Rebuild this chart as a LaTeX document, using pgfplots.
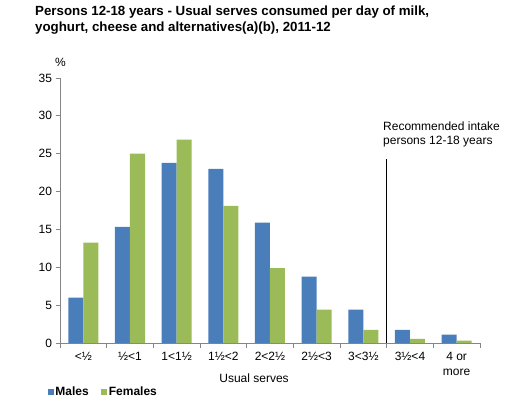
\documentclass[border=0pt]{standalone}
\usepackage{pgfplots}
\pgfplotsset{compat=1.18}
\usepackage{fontspec}
\setmainfont{Liberation Sans}
\definecolor{mblue}{HTML}{4A7EBB}
\definecolor{fgreen}{HTML}{9BBB59}
\definecolor{axgray}{HTML}{868686}
\begin{document}
\begin{tikzpicture}[x=1pt,y=1pt]
\useasboundingbox (0pt,0pt) rectangle (506pt,415pt);
\node[anchor=north west, align=left, font=\fontsize{13.3}{16}\selectfont\bfseries, inner sep=0pt] at (35pt,409pt)
 {Persons 12-18 years - Usual serves consumed per day of milk,\\yoghurt, cheese and alternatives(a)(b), 2011-12};
\begin{axis}[
 at={(60pt,72pt)}, anchor=south west,
 scale only axis, width=420pt, height=265pt,
 ybar=0pt, bar width=15pt,
 xmin=-0.5, xmax=8.5, ymin=0, ymax=35,
 ytick={0,5,...,35},
 xtick={-0.5,0.5,...,8.5},
 xticklabels={},
 extra x ticks={0,1,2,3,4,5,6,7,8},
 extra x tick labels={<½,½<1,1<1½,1½<2,2<2½,2½<3,3<3½,3½<4,4 or\\more},
 extra x tick style={major tick length=0pt, tick label style={align=center, anchor=north, yshift=-6pt}},
 axis x line*=bottom, axis y line*=left,
 axis line style={axgray, line width=0.8pt},
 every tick/.style={axgray, line width=0.8pt},
 tick align=outside, major tick length=4.5pt,
 x tick label style={font=\fontsize{12}{15}\selectfont},
 y tick label style={font=\fontsize{12}{14}\selectfont},
 /pgf/number format/assume math mode=true,
 xlabel={Usual serves},
 xlabel style={font=\fontsize{12}{14}\selectfont, at={(axis description cs:0.462,0)}, anchor=center, yshift=-35pt},
 legend style={at={(-0.0286,-0.185)}, anchor=west, draw=none, fill=none, inner sep=0pt, outer sep=0pt,
   legend columns=2, font=\fontsize{12}{14}\selectfont\bfseries,
   /tikz/every even column/.append style={column sep=11pt},
   nodes={inner sep=1.5pt}},
 legend image code/.code={\fill[#1] (0pt,-3pt) rectangle (6pt,3pt);},
 clip=false,
]
\addplot[fill=mblue, draw=none] coordinates {(0,6.0) (1,15.35) (2,23.8) (3,23.0) (4,15.9) (5,8.75) (6,4.4) (7,1.75) (8,1.1)};
\addplot[fill=fgreen, draw=none] coordinates {(0,13.25) (1,25.0) (2,26.85) (3,18.1) (4,9.9) (5,4.4) (6,1.75) (7,0.55) (8,0.3)};
\legend{Males,Females}
\draw[black, line width=0.9pt] (axis cs:6.5,0) -- (axis cs:6.5,24.3);
\end{axis}
\node[anchor=south west, inner sep=0pt, font=\fontsize{12}{14}\selectfont] at (55pt,348pt) {\%};
\node[anchor=north west, align=left, inner sep=0pt, font=\fontsize{12}{14}\selectfont] at (383pt,293pt) {Recommended intake\\persons 12-18 years};
\end{tikzpicture}
\end{document}
